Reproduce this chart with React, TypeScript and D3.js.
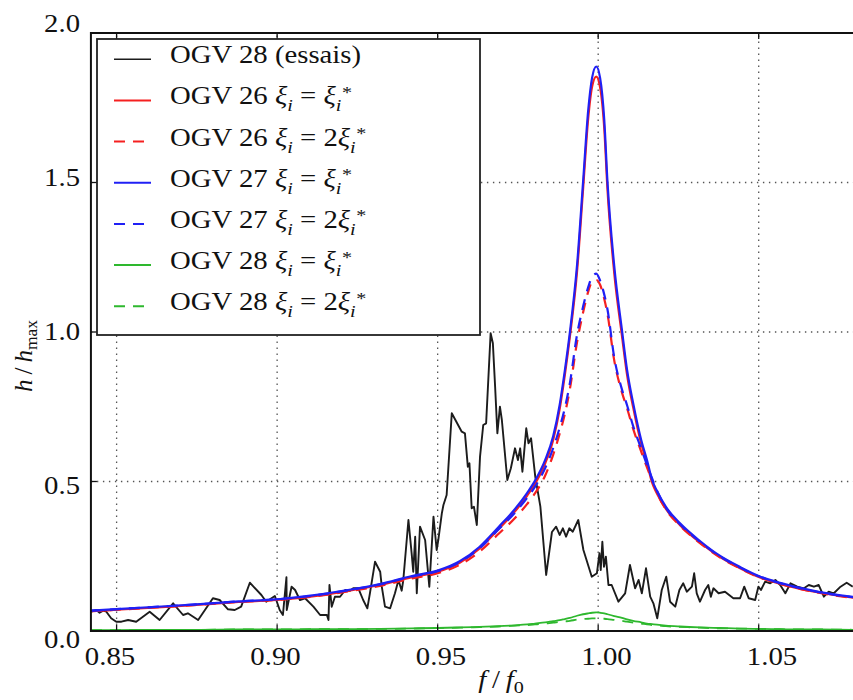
import React from 'react';
import * as d3 from 'd3';

// ---- data ----
const testF = [
  0.8421, 0.8437, 0.8447, 0.8458, 0.8468, 0.8483, 0.8499, 0.8515, 0.8536, 0.8561,
  0.8603, 0.8634, 0.8676, 0.8707, 0.8722, 0.8754, 0.88, 0.8821, 0.8847, 0.8868,
  0.8888, 0.8915, 0.8951, 0.8966, 0.8993, 0.9008, 0.9018, 0.9029, 0.903, 0.9045,
  0.9056, 0.9071, 0.9087, 0.9113, 0.9134, 0.9155, 0.916, 0.9163, 0.917, 0.918,
  0.9196, 0.9212, 0.9227, 0.9237, 0.9253, 0.9268, 0.9281, 0.9289, 0.9305, 0.9321,
  0.9326, 0.9336, 0.9352, 0.9367, 0.9378, 0.9388, 0.9393, 0.9409, 0.9419, 0.9424,
  0.943, 0.9435, 0.9445, 0.9461, 0.9474, 0.9487, 0.9497, 0.9502, 0.9513, 0.9518,
  0.9528, 0.9544, 0.9575, 0.9585, 0.9594, 0.9599, 0.9606, 0.9613, 0.9622, 0.9632,
  0.9642, 0.9651, 0.9665, 0.9672, 0.9679, 0.9686, 0.9694, 0.97, 0.9717, 0.9728,
  0.9741, 0.975, 0.9757, 0.9764, 0.9776, 0.9783, 0.9791, 0.9804, 0.982, 0.9838,
  0.9856, 0.9869, 0.988, 0.989, 0.99, 0.991, 0.9921, 0.9938, 0.9954, 0.998,
  0.9996, 1.0004, 1.0008, 1.0013, 1.0018, 1.0024, 1.0032, 1.0042, 1.0063, 1.0084,
  1.0099, 1.0115, 1.0126, 1.0136, 1.0149, 1.0162, 1.0172, 1.0184, 1.0198, 1.0212,
  1.0224, 1.024, 1.0253, 1.0265, 1.0276, 1.0292, 1.0299, 1.0307, 1.0317, 1.0333,
  1.0343, 1.0351, 1.0359, 1.0375, 1.0395, 1.0421, 1.0442, 1.0455, 1.0469, 1.0489,
  1.0499, 1.0507, 1.052, 1.0536, 1.0552, 1.0567, 1.0583, 1.0599, 1.062, 1.0641,
  1.0656, 1.0672, 1.0687, 1.0703, 1.0718, 1.0734, 1.0755, 1.0774, 1.0793,
];
const testH = [
  0.0645, 0.0702, 0.0612, 0.0679, 0.0645, 0.0425, 0.0311, 0.0311, 0.0368, 0.0311,
  0.0645, 0.0368, 0.0926, 0.0535, 0.0592, 0.0368, 0.1094, 0.1037, 0.0726, 0.0702,
  0.0813, 0.1615, 0.1204, 0.098, 0.1171, 0.0702, 0.0535, 0.1796, 0.0702, 0.1482,
  0.1371, 0.1037, 0.1094, 0.0813, 0.0535, 0.0535, 0.0368, 0.1538, 0.0813, 0.1147,
  0.1147, 0.1371, 0.1348, 0.1428, 0.1428, 0.1037, 0.0759, 0.1261, 0.2318, 0.1983,
  0.1482, 0.0813, 0.0759, 0.1261, 0.1706, 0.1348, 0.1706, 0.3712, 0.2599, 0.1983,
  0.3154, 0.1261, 0.3488, 0.3043, 0.1482, 0.3823, 0.2709, 0.3043, 0.3936, 0.4214,
  0.4548, 0.7281, 0.6666, 0.6612, 0.5495, 0.5609, 0.4104, 0.4157, 0.3545, 0.5833,
  0.689, 0.6946, 0.9957, 0.9622, 0.8171, 0.6612, 0.7502, 0.7057, 0.505, 0.5441,
  0.611, 0.5719, 0.611, 0.5328, 0.6779, 0.6278, 0.6445, 0.5161, 0.4157, 0.1873,
  0.3311, 0.3488, 0.3211, 0.3435, 0.3154, 0.3435, 0.3321, 0.3712, 0.2709, 0.1816,
  0.193, 0.2599, 0.204, 0.2987, 0.215, 0.2485, 0.1538, 0.1538, 0.098, 0.1261,
  0.2207, 0.1428, 0.1706, 0.1261, 0.2097, 0.1147, 0.0926, 0.0425, 0.1371, 0.1816,
  0.098, 0.0813, 0.1371, 0.1595, 0.1314, 0.1482, 0.193, 0.1261, 0.098, 0.1371,
  0.1538, 0.1147, 0.1428, 0.1261, 0.1314, 0.1094, 0.1094, 0.1482, 0.1094, 0.1037,
  0.1482, 0.1371, 0.1649, 0.1595, 0.1706, 0.1538, 0.1261, 0.1595, 0.1482, 0.1428,
  0.1538, 0.1482, 0.1538, 0.1147, 0.1314, 0.1261, 0.1482, 0.1615, 0.1482,
];

const modelF = [
  0.842, 0.85, 0.864, 0.876, 0.888, 0.901, 0.911, 0.922, 0.932, 0.942,
  0.95, 0.957, 0.963, 0.969, 0.9741, 0.9779, 0.9803, 0.9835, 0.986, 0.988,
  0.9896, 0.9912, 0.9934, 0.9953, 0.9969, 0.9981, 0.9994, 1.0006, 1.0019, 1.0029,
  1.005, 1.0074, 1.009, 1.0109, 1.0134, 1.0152, 1.0168, 1.0183, 1.0211, 1.0255,
  1.0317, 1.038, 1.0442, 1.05, 1.0566, 1.0629, 1.0691, 1.08,
];
const ogv26Single = [
  0.066, 0.071, 0.08, 0.088, 0.097, 0.105, 0.116, 0.134, 0.154, 0.18,
  0.198, 0.229, 0.275, 0.341, 0.4, 0.453, 0.492, 0.561, 0.64, 0.742,
  0.855, 0.985, 1.2, 1.478, 1.715, 1.82, 1.854, 1.818, 1.68, 1.476,
  1.198, 0.988, 0.857, 0.748, 0.627, 0.562, 0.496, 0.46, 0.408, 0.354,
  0.296, 0.247, 0.21, 0.181, 0.158, 0.141, 0.128, 0.111,
];
const ogv26Double = [
  0.066, 0.071, 0.08, 0.088, 0.097, 0.105, 0.115, 0.132, 0.151, 0.176,
  0.193, 0.222, 0.265, 0.325, 0.378, 0.425, 0.46, 0.52, 0.59, 0.66,
  0.725, 0.81, 0.965, 1.065, 1.135, 1.168, 1.174, 1.158, 1.11, 1.06,
  0.905, 0.798, 0.745, 0.676, 0.6, 0.547, 0.503, 0.463, 0.406, 0.352,
  0.294, 0.246, 0.209, 0.18, 0.158, 0.141, 0.127, 0.11,
];
const ogv27Single = [
  0.068, 0.073, 0.082, 0.09, 0.099, 0.107, 0.119, 0.137, 0.157, 0.184,
  0.202, 0.234, 0.281, 0.348, 0.408, 0.462, 0.502, 0.572, 0.652, 0.756,
  0.87, 1.0, 1.221, 1.502, 1.742, 1.85, 1.888, 1.85, 1.709, 1.502,
  1.221, 1.007, 0.873, 0.762, 0.639, 0.572, 0.505, 0.468, 0.415, 0.36,
  0.301, 0.251, 0.214, 0.184, 0.161, 0.144, 0.13, 0.113,
];
const ogv27Double = [
  0.068, 0.073, 0.082, 0.09, 0.099, 0.107, 0.118, 0.136, 0.156, 0.182,
  0.2, 0.231, 0.276, 0.34, 0.396, 0.446, 0.482, 0.545, 0.612, 0.68,
  0.745, 0.83, 0.99, 1.085, 1.15, 1.185, 1.195, 1.172, 1.125, 1.075,
  0.915, 0.808, 0.755, 0.685, 0.61, 0.555, 0.51, 0.47, 0.412, 0.357,
  0.298, 0.249, 0.212, 0.183, 0.16, 0.143, 0.129, 0.112,
];
const ogv28Single = [
  0.003, 0.003, 0.004, 0.004, 0.005, 0.005, 0.006, 0.006, 0.007, 0.009,
  0.01, 0.012, 0.014, 0.016, 0.019, 0.022, 0.025, 0.029, 0.033, 0.036,
  0.04, 0.044, 0.051, 0.056, 0.059, 0.061, 0.062, 0.061, 0.059, 0.056,
  0.05, 0.044, 0.039, 0.034, 0.029, 0.025, 0.023, 0.021, 0.018, 0.015,
  0.012, 0.01, 0.008, 0.007, 0.006, 0.005, 0.005, 0.004,
];
const ogv28Double = [
  0.003, 0.003, 0.004, 0.004, 0.005, 0.005, 0.006, 0.006, 0.007, 0.008,
  0.01, 0.011, 0.013, 0.015, 0.018, 0.02, 0.022, 0.025, 0.028, 0.03,
  0.032, 0.034, 0.038, 0.04, 0.041, 0.042, 0.042, 0.042, 0.041, 0.04,
  0.037, 0.034, 0.031, 0.028, 0.025, 0.022, 0.02, 0.019, 0.016, 0.014,
  0.011, 0.009, 0.008, 0.007, 0.006, 0.005, 0.005, 0.004,
];

const xTicks = [0.85, 0.9, 0.95, 1.0, 1.05];
const xTickLabels = ['0.85', '0.90', '0.95', '1.00', '1.05'];
const yTicks = [0, 0.5, 1.0, 1.5, 2.0];
const yTickLabels = ['0.0', '0.5', '1.0', '1.5', '2.0'];
const yGrid = [0.5, 1.0, 1.5];

const legendNames = ['OGV 28 (essais)', 'OGV 26', 'OGV 26', 'OGV 27', 'OGV 27', 'OGV 28', 'OGV 28'];
const legendFactor = [null, '', '2', '', '2', '', '2'];

// ---- styles ----
const W = 853;
const H = 700;
const FONT = "'Liberation Serif', 'Times New Roman', serif";
const FS = 25;
const SX = 1.15;
const BLACK = '#1c1c1c';
const RED = '#f52020';
const BLUE = '#2020f5';
const GREEN = '#2eb82e';
const DASH = '11,8';

const seriesStyle = [
  { color: BLACK, dash: null, width: 1.9 },
  { color: RED, dash: null, width: 2.2 },
  { color: RED, dash: DASH, width: 2.2 },
  { color: BLUE, dash: null, width: 2.2 },
  { color: BLUE, dash: DASH, width: 2.2 },
  { color: GREEN, dash: null, width: 1.8 },
  { color: GREEN, dash: DASH, width: 1.8 },
];

function T({ x, y, anchor = 'start', children, size = FS }: any) {
  return (
    <g transform={`translate(${x},${y}) scale(${SX},1)`}>
      <text x={0} y={0} textAnchor={anchor} fontFamily={FONT} fontSize={size} fill="#111">
        {children}
      </text>
    </g>
  );
}

export default function App() {
  const x = d3.scaleLinear().domain([0.85, 1.05]).range([116.6, 758.7]);
  const y = d3.scaleLinear().domain([0, 2]).range([631, 33]);
  // label placement scales (labels in the reference sit slightly spread from ticks)
  const xl = d3.scaleLinear().domain([0.85, 1.05]).range([110, 772]);
  const yl = d3.scaleLinear().domain([0, 2]).range([640, 23.5]);

  const left = x(0.842);
  const right = x(1.08);
  const top = y(2);
  const bottom = y(0);

  const lineLin = d3
    .line<[number, number]>()
    .x((d) => x(d[0]))
    .y((d) => y(d[1]));
  const lineSmooth = d3
    .line<[number, number]>()
    .x((d) => x(d[0]))
    .y((d) => y(d[1]))
    .curve(d3.curveMonotoneX);

  const testPts = d3.zip(testF, testH) as [number, number][];
  const models = [ogv26Single, ogv26Double, ogv27Single, ogv27Double, ogv28Single, ogv28Double];
  const modelPaths = models.map((vals) => lineSmooth(d3.zip(modelF, vals) as [number, number][]) || '');

  const legX0 = 97;
  const legY0 = 39;
  const legX1 = 480;
  const legY1 = 335;
  const legLineY = (i: number) => 59.3 + i * 41.15;

  const tickLen = 6;
  const sub = FS * 0.7;

  return (
    <svg
      width={W}
      height={H}
      style={{ position: 'absolute', left: 0, top: 0, background: '#fff' }}
      xmlns="http://www.w3.org/2000/svg"
    >
      <defs>
        <clipPath id="plotclip">
          <rect x={left} y={top - 2} width={right - left} height={bottom - top + 2} />
        </clipPath>
      </defs>
      <rect x={0} y={0} width={W} height={H} fill="#fff" />

      {/* grid */}
      <g stroke="#555" strokeWidth={1.3} strokeDasharray="1.4,4.6">
        {xTicks.map((t) => (
          <line key={'gx' + t} x1={x(t)} x2={x(t)} y1={bottom} y2={top} />
        ))}
        {yGrid.map((t) => (
          <line key={'gy' + t} x1={left} x2={right} y1={y(t)} y2={y(t)} />
        ))}
      </g>

      {/* data */}
      <g clipPath="url(#plotclip)" fill="none" strokeLinejoin="round">
        <path d={lineLin(testPts) || ''} stroke={BLACK} strokeWidth={seriesStyle[0].width} />
        {modelPaths.map((p, i) => (
          <path
            key={'m' + i}
            d={p}
            stroke={seriesStyle[i + 1].color}
            strokeWidth={seriesStyle[i + 1].width}
            strokeDasharray={seriesStyle[i + 1].dash || undefined}
          />
        ))}
      </g>

      {/* frame */}
      <rect x={left} y={top} width={right - left} height={bottom - top} fill="none" stroke="#111" strokeWidth={2} />

      {/* ticks */}
      <g stroke="#111" strokeWidth={1.3}>
        {xTicks.map((t) => (
          <g key={'tx' + t}>
            <line x1={x(t)} x2={x(t)} y1={bottom} y2={bottom - tickLen} />
            <line x1={x(t)} x2={x(t)} y1={top} y2={top + tickLen} />
          </g>
        ))}
        {yTicks.map((t) => (
          <line key={'ty' + t} x1={left} x2={left + tickLen} y1={y(t)} y2={y(t)} />
        ))}
      </g>

      {/* tick labels */}
      {xTicks.map((t, i) => (
        <T key={'lx' + t} x={xl(t)} y={665} anchor="middle">
          {xTickLabels[i]}
        </T>
      ))}
      {yTicks.map((t, i) => (
        <T key={'ly' + t} x={80} y={yl(t) + 8.4} anchor="end">
          {yTickLabels[i]}
        </T>
      ))}

      {/* axis labels */}
      <T x={501} y={688} anchor="middle">
        <tspan fontStyle="italic">f</tspan>
        <tspan>{'\u2009/\u2009'}</tspan>
        <tspan fontStyle="italic">f</tspan>
        <tspan fontSize={sub} dy={5}>0</tspan>
      </T>
      <g transform="translate(32,356) rotate(-90)">
        <text x={0} y={0} textAnchor="middle" fontFamily={FONT} fontSize={FS} fill="#111">
          <tspan fontStyle="italic">h</tspan>
          <tspan>{'\u2009/\u2009'}</tspan>
          <tspan fontStyle="italic">h</tspan>
          <tspan fontSize={sub} dy={5}>max</tspan>
        </text>
      </g>

      {/* legend */}
      <rect x={legX0} y={legY0} width={legX1 - legX0} height={legY1 - legY0} fill="#fff" stroke="#222" strokeWidth={1.8} />
      {legendNames.map((name, i) => {
        const st = seriesStyle[i];
        const ly = legLineY(i);
        const fac = legendFactor[i];
        return (
          <g key={'leg' + i}>
            <line
              x1={114}
              x2={151}
              y1={ly}
              y2={ly}
              stroke={st.color}
              strokeWidth={i === 0 ? 1.6 : 2}
              strokeDasharray={st.dash || undefined}
            />
            <T x={170} y={ly + 4}>
              {fac === null ? (
                name
              ) : (
                <>
                  <tspan>{name + ' '}</tspan>
                  <tspan fontStyle="italic">ξ</tspan>
                  <tspan fontStyle="italic" fontSize={sub} dy={7}>i</tspan>
                  <tspan dy={-7}>{' = ' + fac}</tspan>
                  <tspan fontStyle="italic">ξ</tspan>
                  <tspan fontStyle="italic" fontSize={sub} dy={7}>i</tspan>
                  <tspan fontSize={sub} dx={0.5} dy={-13.5}>*</tspan>
                </>
              )}
            </T>
          </g>
        );
      })}
    </svg>
  );
}
